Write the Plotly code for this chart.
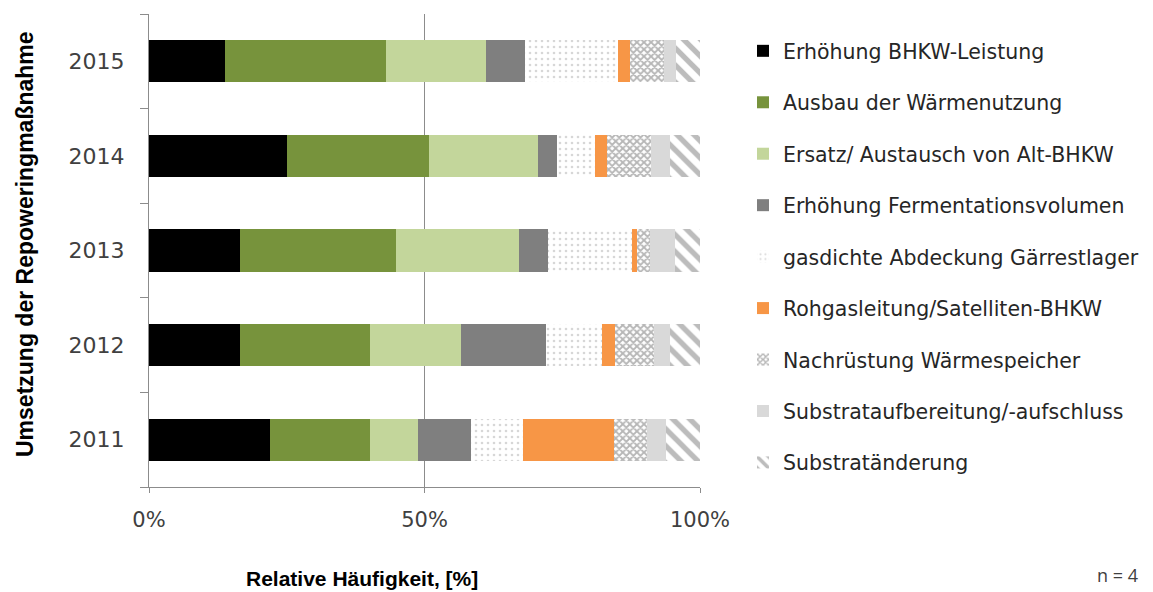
import plotly.graph_objects as go

years = ["2011", "2012", "2013", "2014", "2015"]

erhoehung_bhkw = [22.0, 16.6, 16.6, 25.0, 13.8]
ausbau_waerme = [18.1, 23.5, 28.3, 25.9, 29.3]
ersatz_alt_bhkw = [8.8, 16.5, 22.2, 19.7, 18.1]
fermentationsvolumen = [9.5, 15.4, 5.4, 3.4, 7.0]
gasdichte_abdeckung = [9.4, 10.2, 15.1, 6.9, 17.0]
rohgasleitung = [16.6, 2.3, 0.9, 2.3, 2.1]
waermespeicher = [5.9, 7.1, 2.5, 7.9, 6.1]
substrataufbereitung = [3.5, 2.9, 4.4, 3.4, 2.2]
substrataenderung = [6.2, 5.5, 4.6, 5.5, 4.4]

series_names = [
    "Erhöhung BHKW-Leistung",
    "Ausbau der Wärmenutzung",
    "Ersatz/ Austausch von Alt-BHKW",
    "Erhöhung Fermentationsvolumen",
    "gasdichte Abdeckung Gärrestlager",
    "Rohgasleitung/Satelliten-BHKW",
    "Nachrüstung Wärmespeicher",
    "Substrataufbereitung/-aufschluss",
    "Substratänderung",
]
series_values = [
    erhoehung_bhkw, ausbau_waerme, ersatz_alt_bhkw, fermentationsvolumen,
    gasdichte_abdeckung, rohgasleitung, waermespeicher, substrataufbereitung,
    substrataenderung,
]

x_tickvals = [0, 50, 100]
x_ticktext = ["0%", "50%", "100%"]

styles = [
    dict(color="#000000"),
    dict(color="#77933c"),
    dict(color="#c3d69b"),
    dict(color="#7f7f7f"),
    dict(color="#ffffff", pattern=dict(shape=".", fgcolor="#b0b0b0", bgcolor="#ffffff", size=6, solidity=0.15)),
    dict(color="#f79646"),
    dict(color="#ffffff", pattern=dict(shape="x", fgcolor="#6e6e6e", bgcolor="#ffffff", size=5, solidity=0.6)),
    dict(color="#d9d9d9"),
    dict(color="#ffffff", pattern=dict(shape="\\", fgcolor="#7a7a7a", bgcolor="#ffffff", size=12, solidity=0.45)),
]

# page body has an 8px margin; target screen positions are shifted back by it
OFF = 8
W, H = 1153, 592
L, R, T, B = 149 - OFF, 700 - OFF, 14 - OFF, 487 - OFF

fig = go.Figure()
for name, vals, st in zip(series_names, series_values, styles):
    marker = dict(color=st["color"], line=dict(width=0))
    if "pattern" in st:
        marker["pattern"] = st["pattern"]
    fig.add_trace(go.Bar(
        y=years, x=vals, name=name, orientation="h", marker=marker,
        legendgroup=name,
    ))

pw, ph = R - L, B - T


def px2paper(px, py):
    # px, py are screen positions in the reference
    return (px - OFF - L) / pw, (B - (py - OFF)) / ph


lx, ly = px2paper(743, 31)
tx, ty = px2paper(362, 578)
yx, yy = px2paper(25, 244)
nx, ny = px2paper(1140, 575)

fig.update_layout(
    width=W, height=H,
    barmode="stack", bargap=0.555,
    paper_bgcolor="white", plot_bgcolor="white",
    margin=dict(l=L, r=W - R, t=T, b=H - B, autoexpand=False),
    font=dict(family="DejaVu Sans", color="#404040", size=18),
    showlegend=True,
    legend=dict(
        x=lx, xanchor="left", y=ly, yanchor="top",
        traceorder="grouped", tracegroupgap=21.8,
        font=dict(size=20.5, color="#262626", family="DejaVu Sans"),
        itemwidth=30,
    ),
    xaxis=dict(
        range=[0, 100], tickvals=x_tickvals, ticktext=x_ticktext,
        showgrid=True, gridcolor="#8c8c8c", gridwidth=1,
        showline=True, linecolor="#8c8c8c", linewidth=1,
        ticks="outside", ticklen=5, tickcolor="#8c8c8c",
        tickfont=dict(size=21, color="#404040"),
        zeroline=False, automargin=False, ticklabelstandoff=9,
    ),
    yaxis=dict(
        categoryorder="array", categoryarray=years,
        showline=True, linecolor="#8c8c8c", linewidth=1,
        ticks="outside", ticklen=8, tickcolor="#8c8c8c", tickson="boundaries",
        tickfont=dict(size=22, color="#404040"),
        showgrid=False, zeroline=False, ticklabelstandoff=19, automargin=False,
    ),
    annotations=[
        dict(text="<b>Relative Häufigkeit, [%]</b>", x=tx, y=ty, xref="paper", yref="paper",
             xanchor="center", yanchor="middle",
             showarrow=False, font=dict(size=21, color="#000000", family="Liberation Sans")),
        dict(text="<b>Umsetzung der Repoweringmaßnahme</b>", x=yx, y=yy, xref="paper", yref="paper",
             xanchor="center", yanchor="middle",
             textangle=-90, showarrow=False,
             font=dict(size=23, color="#000000", family="Liberation Sans")),
        dict(text="n = 4", x=nx, y=ny, xref="paper", yref="paper", xanchor="right", yanchor="middle",
             showarrow=False, font=dict(size=18, color="#404040", family="Open Sans")),
    ],
)

fig.write_html("out.html")
